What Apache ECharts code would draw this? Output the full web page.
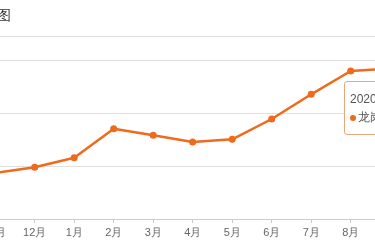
<!DOCTYPE html>
<html><head><meta charset="utf-8">
<script src="https://cdn.jsdelivr.net/npm/echarts@6/dist/echarts.min.js"></script>
<style>html,body{margin:0;padding:0;background:#fff}#c{width:375px;height:250px}</style>
</head><body><div id="c"></div>
<script>
const categories = ['11月','12月','1月','2月','3月','4月','5月','6月','7月','8月','9月'];
const tooltipDates = ['2019-11','2019-12','2020-01','2020-02','2020-03','2020-04','2020-05','2020-06','2020-07','2020-08','2020-09'];
const seriesName = '龙岗';
const prices = [48680,49750,51570,57040,55790,54530,55040,58870,63530,67920,68380];
const yMin = 40000, yMax = 74400, yInterval = 10000;

const chart = echarts.init(document.getElementById('c'));
chart.setOption({
  animation: false,
  title: { text: '走势图', left: -36, top: 4, textStyle: { fontSize: 14, fontWeight: 'normal', color: '#333' } },
  grid: { left: -4.8, right: -15.2, top: 36.7, bottom: 31, containLabel: false, outerBoundsMode: 'none' },
  tooltip: {
    trigger: 'item', triggerOn: 'none', alwaysShowContent: true, transitionDuration: 0,
    position: [344, 81],
    backgroundColor: '#fff', borderColor: '#e8a77a', borderWidth: 1, padding: [8, 5],
    extraCssText: 'box-shadow:none;border-radius:3px;',
    textStyle: { fontSize: 12, color: '#555' },
    formatter: p => tooltipDates[p.dataIndex] + '<br/>' +
      '<span style="display:inline-block;width:6px;height:6px;border-radius:3px;background:' + p.color + ';margin-right:2px;vertical-align:middle"></span>' +
      p.seriesName + ': ' + p.value
  },
  xAxis: {
    type: 'category', data: categories, boundaryGap: false,
    axisLine: { lineStyle: { color: '#ccc' } },
    axisTick: { show: true, length: 4, lineStyle: { color: '#ccc' } },
    axisLabel: { color: '#666', fontSize: 11, margin: 8 }
  },
  yAxis: {
    type: 'value', min: yMin, max: yMax, interval: yInterval,
    axisLabel: { show: false }, axisLine: { show: false }, axisTick: { show: false },
    splitLine: { lineStyle: { color: '#e0e0e0' } }
  },
  series: [{
    name: seriesName, type: 'line', data: prices,
    symbol: 'circle', symbolSize: 7,
    itemStyle: { color: '#ef6a1c' },
    lineStyle: { color: '#ef6a1c', width: 2.5 }
  }]
});
chart.dispatchAction({ type: 'showTip', seriesIndex: 0, dataIndex: 9 });
</script></body></html>
